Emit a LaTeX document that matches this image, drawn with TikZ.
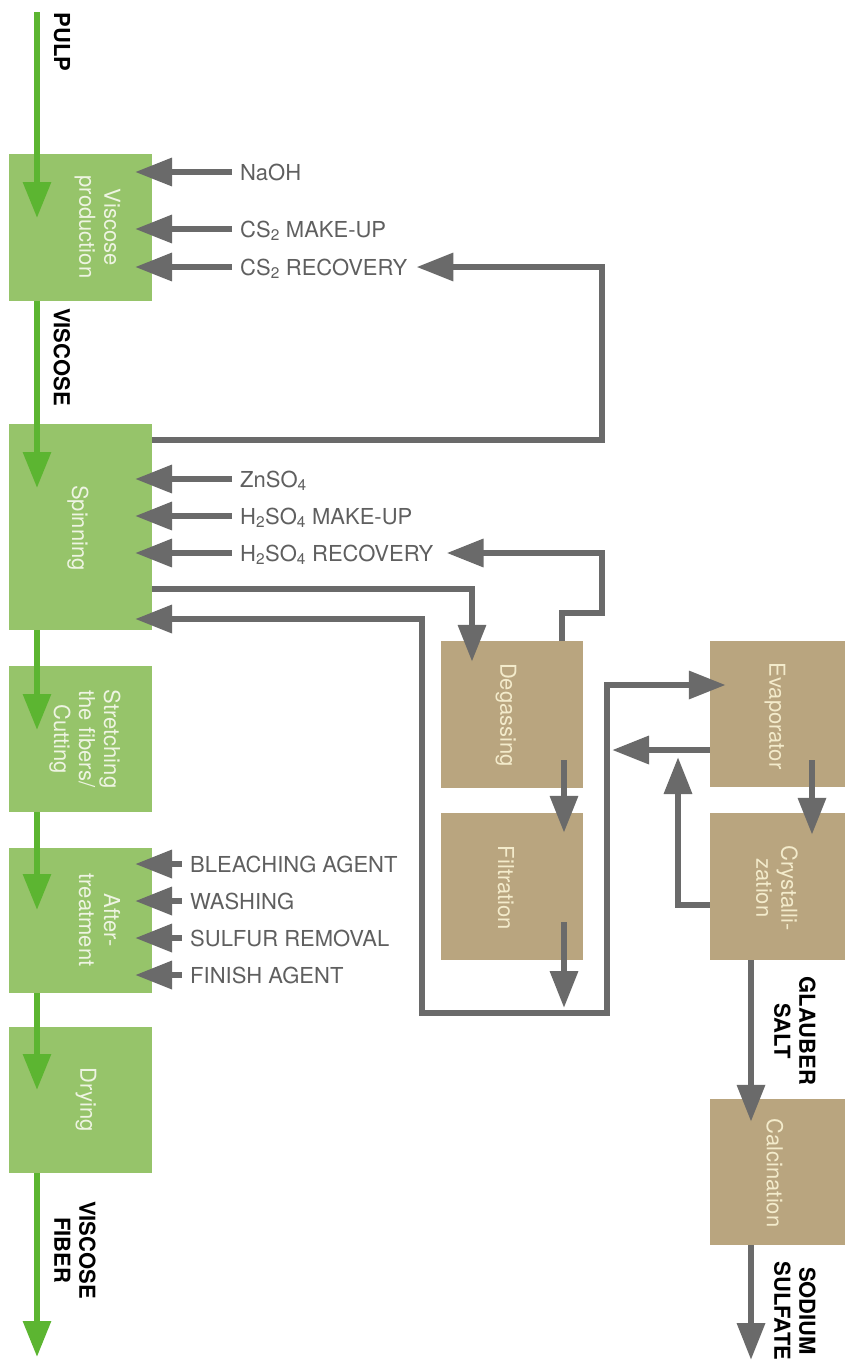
\documentclass[tikz,border=0pt]{standalone}
\usepackage{fontspec}
\setmainfont{TeX Gyre Heros}
\usetikzlibrary{arrows.meta,calc}
\definecolor{gbox}{HTML}{96C46A}
\definecolor{garr}{HTML}{5CB531}
\definecolor{tanbox}{HTML}{B9A57F}
\definecolor{grayarr}{HTML}{6A6A6A}
\definecolor{gtext}{HTML}{EEF4E2}
\definecolor{ttext}{HTML}{F3EBCB}
\begin{document}
\begin{tikzpicture}[x=1pt,y=-1pt,
  greenbox/.style={fill=gbox, draw=none, minimum width=143pt, inner sep=0pt},
  brownbox/.style={fill=tanbox, draw=none, minimum width=142pt, inner sep=0pt},
  boxtext/.style={rotate=-90, align=center, font=\fontsize{22}{25}\selectfont, inner sep=0pt},
  flowlabel/.style={rotate=-90, align=center, font=\fontsize{22}{25}\selectfont\bfseries, inner sep=0pt},
  chem/.style={anchor=west, text=grayarr!90!black, font=\fontsize{22}{25}\selectfont, inner xsep=8pt, inner ysep=0pt, text height=16pt, text depth=0pt},
  greenflow/.style={draw=garr, line width=6pt, -{Triangle[length=36pt,width=27pt]}},
  grayflow/.style={draw=grayarr, line width=6.5pt, -{Triangle[length=37pt,width=27pt]}},
  twoway/.style={draw=grayarr, line width=6.5pt, {Triangle[length=37pt,width=27pt]}-{Triangle[length=37pt,width=27pt]}},
]
\useasboundingbox (0,0) rectangle (845,1360);
\clip (0,0) rectangle (845,1360);

% green process boxes
\node[greenbox, minimum height=147pt] (vp) at (80.5,227.5) {};
\node[greenbox, minimum height=206pt] (sp) at (80.5,527) {};
\node[greenbox, minimum height=146pt] (st) at (80.5,739) {};
\node[greenbox, minimum height=145pt] (at) at (80.5,920.5) {};
\node[greenbox, minimum height=146pt] (dr) at (80.5,1100) {};

% brown recovery boxes
\node[brownbox, minimum height=147pt] (dg) at (512,714.5) {};
\node[brownbox, minimum height=147pt] (fl) at (512,886.5) {};
\node[brownbox, minimum height=146pt] (ev) at (781,714) {};
\node[brownbox, minimum height=147pt] (cr) at (781,886.5) {};
\node[brownbox, minimum height=146pt] (ca) at (781,1172) {};

% helper coordinates
\coordinate (gx) at (37,0);
\coordinate (gtop) at (37,12);
\coordinate (g1) at (37,218);
\coordinate (g2) at (37,488);
\coordinate (g3) at (37,730);
\coordinate (g4) at (37,910);
\coordinate (g5) at (37,1090);
\coordinate (g6) at (37,1357);
\coordinate (inL) at (135,0);

% green main flow
\draw[greenflow] (gtop) -- (g1);
\draw[greenflow] (vp.south -| gx) -- (g2);
\draw[greenflow] (sp.south -| gx) -- (g3);
\draw[greenflow] (st.south -| gx) -- (g4);
\draw[greenflow] (at.south -| gx) -- (g5);
\draw[greenflow] (dr.south -| gx) -- (g6);

% flow labels
\node[flowlabel] (pulp) at (62,42) {PULP};
\node[flowlabel] (visc) at (62,357) {VISCOSE};
\node[flowlabel] (vfib) at (75,1250) {VISCOSE\\FIBER};
\node[flowlabel] (glau) at (795,1031) {GLAUBER\\SALT};
\node[flowlabel] (sods) at (795,1311) {SODIUM\\SULFATE};

% chemical inputs
\node[chem] (naoh) at (232,172) {NaOH};
\node[chem] (csmu) at (232,229) {CS\textsubscript{2} MAKE-UP};
\node[chem] (csrc) at (232,267) {CS\textsubscript{2} RECOVERY};
\node[chem] (zn) at (232,479) {ZnSO\textsubscript{4}};
\node[chem] (hmu) at (232,516) {H\textsubscript{2}SO\textsubscript{4} MAKE-UP};
\node[chem] (hrc) at (232,553) {H\textsubscript{2}SO\textsubscript{4} RECOVERY};
\node[chem] (bl) at (182,864) {BLEACHING AGENT};
\node[chem] (wa) at (182,901) {WASHING};
\node[chem] (su) at (182,938) {SULFUR REMOVAL};
\node[chem] (fi) at (182,975) {FINISH AGENT};

\foreach \n in {naoh,csmu,csrc,zn,hmu,hrc,bl,wa,su,fi}
  \draw[grayflow] (\n.west) -- (\n.west -| inL);

% CS2 recovery loop
\coordinate (cr1) at (602,440);
\coordinate (cr2) at (602,267);
\draw[grayflow] (sp.east |- cr1) -- (cr1) -- (cr2) -- ([xshift=1pt]csrc.east);

% H2SO4 recovery from degassing
\coordinate (hr1) at (562,613);
\coordinate (hr2) at (602,613);
\coordinate (hr3) at (602,553);
\draw[grayflow] (dg.north -| hr1) -- (hr1) -- (hr2) -- (hr3) -- ([xshift=5pt]hrc.east);

% spinning bath to degassing
\coordinate (sd1) at (472,589);
\draw[grayflow] (sp.east |- sd1) -- (sd1) -- ([yshift=-21pt]dg.north -| sd1);

% filtrate loop: back to spinning and on to evaporator
\coordinate (lp1) at (422,619);
\coordinate (lp2) at (422,1013);
\coordinate (lp3) at (607,1013);
\coordinate (lp4) at (607,685);
\draw[twoway] (inL |- lp1) -- (lp1) -- (lp2) -- (lp3) -- (lp4) -- ([xshift=16pt]ev.west |- lp4);

% degassing -> filtration -> loop
\coordinate (df) at (564,760);
\draw[grayflow] (df) -- ([yshift=-20pt]fl.north -| df);
\coordinate (fo) at (564,922);
\draw[grayflow] (fo) -- ([yshift=5pt]lp2 -| fo);

% evaporator / crystallization
\coordinate (el) at (612,750);
\draw[grayflow] (ev.west |- el) -- (el);
\coordinate (cu1) at (678,905);
\coordinate (cu2) at (678,757);
\draw[grayflow] (cr.west |- cu1) -- (cu1) -- (cu2);
\coordinate (ec) at (812,760);
\draw[grayflow] (ec) -- ([yshift=-22pt]cr.north -| ec);
\coordinate (gx2) at (751,0);
\coordinate (bottom) at (0,1360);
\draw[grayflow] (cr.south -| gx2) -- ([yshift=-23pt]ca.north -| gx2);
\draw[grayflow] (ca.south -| gx2) -- (gx2 |- bottom);

% box texts
\node[boxtext, text=gtext] (tvp) at (97.5,227) {Viscose\\production};
\node[boxtext, text=gtext] (tsp) at (78,528) {Spinning};
\node[boxtext, text=gtext] (tst) at (85,739) {Stretching\\the fibers/\\Cutting};
\node[boxtext, text=gtext] (tat) at (99.5,920) {After-\\treatment};
\node[boxtext, text=gtext] (tdr) at (86,1100) {Drying};
\node[boxtext, text=ttext] (tdg) at (506,715) {Degassing};
\node[boxtext, text=ttext] (tfl) at (506,888) {Filtration};
\node[boxtext, text=ttext] (tev) at (775,716) {Evaporator};
\node[boxtext, text=ttext] (tcr) at (777,888) {Crystalli-\\zation};
\node[boxtext, text=ttext] (tca) at (775,1173) {Calcination};
\end{tikzpicture}
\end{document}
